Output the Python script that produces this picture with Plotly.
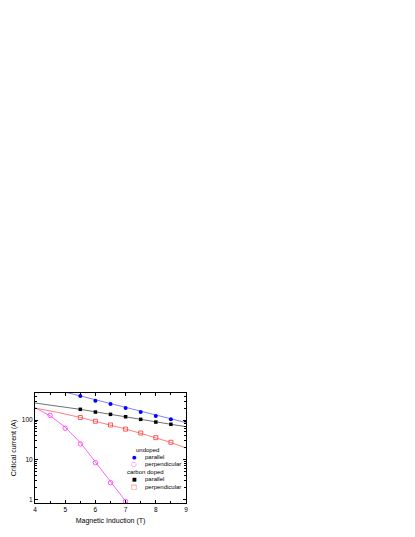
import plotly.graph_objects as go
import math

# Data
x_und_par = [5.5, 6.0, 6.5, 7.0, 7.5, 8.0, 8.5]
y_und_par = [405, 307, 255, 201, 159, 126, 104]
x_und_perp = [4.5, 5.0, 5.5, 6.0, 6.5, 7.0]
y_und_perp = [131, 62, 25, 8.4, 2.63, 0.89]
x_cd_par = [5.5, 6.0, 6.5, 7.0, 7.5, 8.0, 8.5]
y_cd_par = [186, 159, 139, 121, 104, 89, 78]
x_cd_perp = [5.5, 6.0, 6.5, 7.0, 7.5, 8.0, 8.5]
y_cd_perp = [116, 93, 75, 59, 47, 36, 27.5]

# Fit lines
fx_und_par = [4.9, 5.5, 8.5, 9.0]
fy_und_par = [528, 403, 104, 86]
fx_und_perp = [4.0, 4.5, 5.0, 5.5, 6.0, 6.5, 7.0, 7.07]
fy_und_perp = [205, 128, 66, 27, 8.8, 2.75, 0.9, 0.8]
fx_cd_par = [4.0, 5.5, 8.5, 9.0]
fy_cd_par = [268, 186, 78, 68]
fx_cd_perp = [4.0, 4.75, 5.5, 6.25, 7.0, 7.75, 8.5, 9.0]
fy_cd_perp = [200, 156, 116, 84, 59.3, 40.7, 27.1, 19.7]

legend_groups = ["undoped", "carbon doped"]
legend_items = ["parallel", "perpendicular"]

FONT = "Liberation Sans, Arial, sans-serif"
C_BLUE, C_MAG, C_BLACK, C_RED = "#0000ff", "#ff33ff", "#000000", "#ff3333"

# The page body has an 8px default margin; compensate so the plot lands where the reference has it.
OFF = 8
W, H = 415 - OFF, 537 - OFF
L, R, T, B = 35 - OFF, 186 - OFF, 393 - OFF, 503 - OFF

fig = go.Figure()

def fit(x, y, color):
    fig.add_trace(go.Scatter(x=x, y=y, mode="lines", line=dict(color=color, width=1),
                             showlegend=False, hoverinfo="skip"))

fit(fx_und_par, fy_und_par, "#8080ff")
fit(fx_und_perp, fy_und_perp, "#ff66ff")
fit(fx_cd_par, fy_cd_par, "#707070")
fit(fx_cd_perp, fy_cd_perp, "#ff8080")

fig.add_trace(go.Scatter(x=x_und_par, y=y_und_par, mode="markers", showlegend=False,
                         marker=dict(symbol="circle", size=4, color=C_BLUE)))
fig.add_trace(go.Scatter(x=x_und_perp, y=y_und_perp, mode="markers", showlegend=False,
                         marker=dict(symbol="circle-open", size=4.5, color=C_MAG, line=dict(width=0.8))))
fig.add_trace(go.Scatter(x=x_cd_par, y=y_cd_par, mode="markers", showlegend=False,
                         marker=dict(symbol="square", size=3.5, color=C_BLACK)))
fig.add_trace(go.Scatter(x=x_cd_perp, y=y_cd_perp, mode="markers", showlegend=False,
                         marker=dict(symbol="square-open", size=4, color=C_RED, line=dict(width=0.8))))

# Manual legend (paper coordinates; positions given in reference pixels)
def px(xp): return (xp - OFF - L) / (R - L)
def py(yp): return (B - (yp - OFF)) / (B - T)

ann = []
def txt(text, x, y, xanchor="left"):
    ann.append(dict(text=text, x=px(x), y=py(y), xref="paper", yref="paper", showarrow=False,
                    xanchor=xanchor, yanchor="middle", font=dict(size=6, family=FONT, color="black")))

txt(legend_groups[0], 147, 450, "center")
txt(legend_items[0], 143, 457)
txt(legend_items[1], 143, 464)
txt(legend_groups[1], 145, 471.5, "center")
txt(legend_items[0], 143, 479)
txt(legend_items[1], 143, 486.7)

sym = [("●", C_BLUE, 457, 5), ("○", C_MAG, 464, 6.5), ("■", C_BLACK, 479, 5), ("□", C_RED, 486.7, 6.5)]
for s, c, y, sz in sym:
    ann.append(dict(text=s, x=px(134), y=py(y), xref="paper", yref="paper", showarrow=False,
                    xanchor="center", yanchor="middle", font=dict(size=sz, family="DejaVu Sans", color=c)))

axis_common = dict(showline=True, linecolor="black", linewidth=1, mirror="allticks",
                   ticks="inside", ticklen=3, tickcolor="black", showgrid=False, zeroline=False,
                   automargin=False,
                   tickfont=dict(size=6.5, family=FONT, color="black"))

fig.update_layout(
    width=W, height=H,
    margin=dict(l=L, r=W - R, t=T, b=H - B),
    paper_bgcolor="white", plot_bgcolor="white",
    font=dict(family=FONT, size=7, color="black"),
    showlegend=False,
    annotations=ann,
    xaxis=dict(range=[4, 9], dtick=1,
               minor=dict(ticks="inside", ticklen=2, dtick=0.5, tickcolor="black"),
               title=dict(text="Magnetic Induction (T)", font=dict(size=7, family=FONT), standoff=6),
               **axis_common),
    yaxis=dict(type="log", range=[math.log10(0.81), math.log10(480)],
               tickvals=[1, 10, 100], ticktext=["1", "10", "100"],
               minor=dict(ticks="inside", ticklen=2, tickvals=[2, 3, 4, 5, 6, 7, 8, 9, 20, 30, 40, 50, 60, 70, 80, 90, 200, 300, 400], tickcolor="black"),
               title=dict(text="Critical current (A)", font=dict(size=7, family=FONT), standoff=4),
               **axis_common),
)

fig.write_html("out.html")
